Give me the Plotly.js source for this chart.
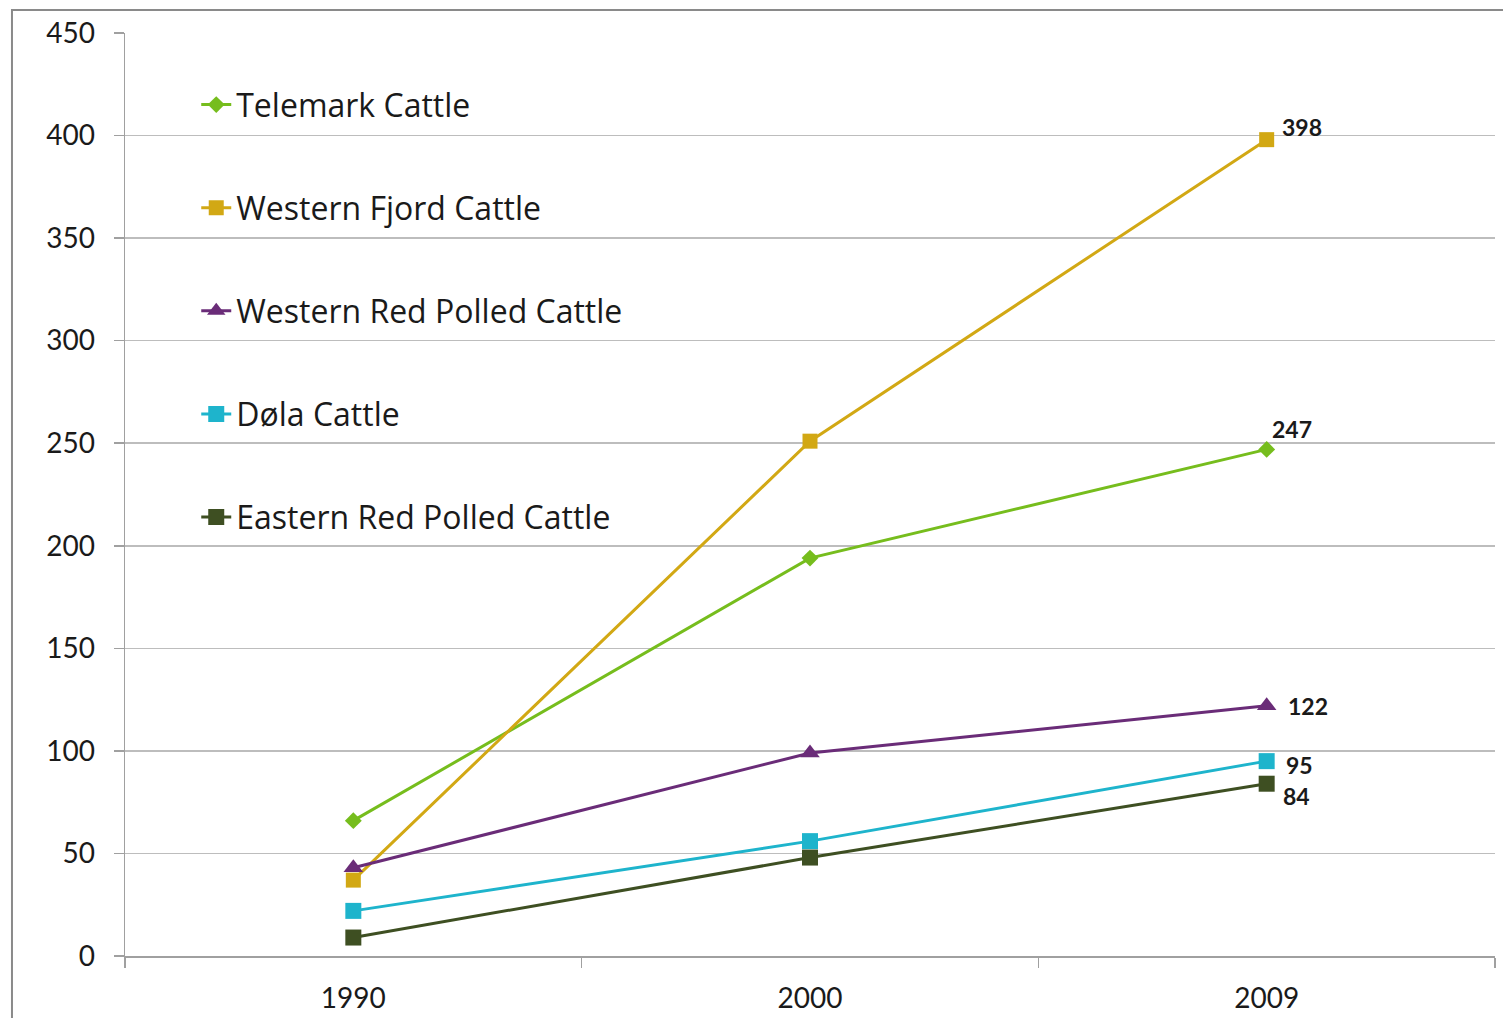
<!DOCTYPE html>
<html>
<head>
<meta charset="utf-8">
<script src="https://cdn.plot.ly/plotly-3.0.1.min.js"></script>
<style>
  html, body { margin: 0; padding: 0; background: #fff; }
  #chart { width: 1503px; height: 1018px; }
</style>
</head>
<body>
<div id="chart"></div>
<script>
const years = ['1990', '2000', '2009'];
const telemark = [66, 194, 247];
const westernFjord = [37, 251, 398];
const westernRedPolled = [43, 99, 122];
const dola = [22, 56, 95];
const easternRedPolled = [9, 48, 84];

const seriesNames = ['Telemark Cattle', 'Western Fjord Cattle', 'Western Red Polled Cattle', 'Døla Cattle', 'Eastern Red Polled Cattle'];
const seriesValues = [telemark, westernFjord, westernRedPolled, dola, easternRedPolled];
const colors = ['#76bd1d', '#d2a814', '#6a2c78', '#1eb4cc', '#3e4f22'];
const symbols = ['diamond', 'square', 'triangle-up', 'square', 'square'];
const sizes = [13, 15, 17, 16, 16];
// label offsets (pixels) for the final-year values
const labelShiftX = [25, 35, 41, 33, 30];
const labelShiftY = [20, 13, 0, -4, -12];

const traces = seriesNames.map((name, i) => ({
  type: 'scatter',
  mode: 'lines+markers',
  name: name,
  legendgroup: 'g' + i,
  x: years,
  y: seriesValues[i],
  line: { color: colors[i], width: 3 },
  marker: { color: colors[i], symbol: symbols[i], size: sizes[i] },
  cliponaxis: false
}));

const lastIdx = years.length - 1;
const annotations = seriesValues.map((vals, i) => ({
  x: lastIdx,
  y: vals[lastIdx],
  xref: 'x', yref: 'y',
  text: '<b>' + vals[lastIdx] + '</b>',
  showarrow: false,
  xshift: labelShiftX[i],
  yshift: labelShiftY[i],
  borderpad: 0,
  font: { family: 'Lato, "Open Sans", sans-serif', size: 23, color: '#1a1a1a' }
}));

const layout = {
  width: 1503,
  height: 1018,
  margin: { l: 125, r: 8, t: 33, b: 62 },
  paper_bgcolor: '#ffffff',
  plot_bgcolor: '#ffffff',
  font: { family: 'Lato, "Open Sans", sans-serif', color: '#1a1a1a' },
  showlegend: true,
  legend: {
    x: 0.052, y: 0.952, xanchor: 'left', yanchor: 'top',
    font: { family: '"Open Sans", Lato, sans-serif', size: 32, color: '#1a1a1a' },
    tracegroupgap: 58.5,
    bgcolor: 'rgba(0,0,0,0)',
    itemwidth: 30
  },
  xaxis: {
    type: 'category',
    range: [-0.5, 2.5],
    tickson: 'boundaries',
    ticks: 'outside', ticklen: 10, tickcolor: '#a0a0a0', tickwidth: 1.5,
    showline: true, linecolor: '#a0a0a0', linewidth: 1.5,
    showgrid: false,
    tickfont: { size: 28, color: '#1a1a1a' },
    ticklabelstandoff: 17,
    fixedrange: true
  },
  yaxis: {
    range: [0, 450],
    dtick: 50,
    ticks: 'outside', ticklen: 10, tickcolor: '#a0a0a0', tickwidth: 1.5,
    showline: true, linecolor: '#a0a0a0', linewidth: 1.5,
    showgrid: true, gridcolor: '#bdbdbd', gridwidth: 1.5,
    zeroline: false,
    tickfont: { size: 28, color: '#1a1a1a' },
    ticklabelstandoff: 13,
    fixedrange: true
  },
  annotations: annotations,
  shapes: [{
    type: 'path', xref: 'paper', yref: 'paper',
    path: 'M -0.0825,-0.2 L -0.0825,1.0249 L 1.1,1.0249',
    line: { color: '#8a8a8a', width: 2 }
  }]
};

Plotly.newPlot('chart', traces, layout, { staticPlot: true });
</script>
</body>
</html>
